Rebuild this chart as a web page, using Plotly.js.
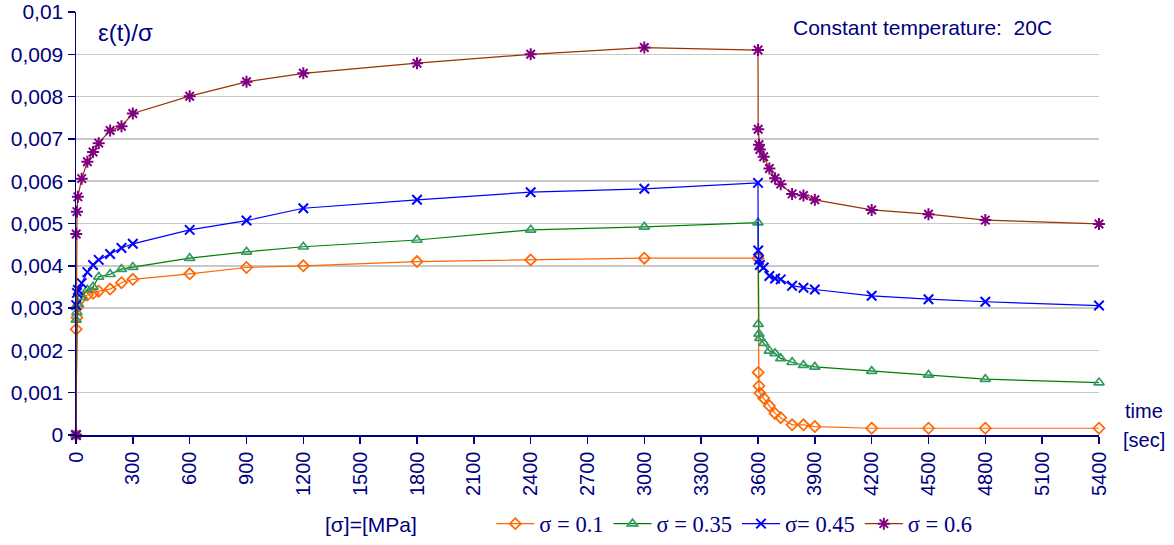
<!DOCTYPE html>
<html>
<head>
<meta charset="utf-8">
<script src="https://cdn.plot.ly/plotly-3.0.1.min.js"></script>
<style>html,body{margin:0;padding:0;background:#fff;}#chart{width:1174px;height:545px;}</style>
</head>
<body>
<div id="chart"></div>
<script>
// time in seconds
const timeSec = [0, 1, 5, 10, 30, 60, 90, 120, 180, 240, 300, 600, 900, 1200, 1800, 2400, 3000, 3600,
  3601, 3605, 3610, 3630, 3660, 3690, 3720, 3780, 3840, 3900, 4200, 4500, 4800, 5400];

const sigma01 = [0, 0.00250, 0.00278, 0.00303, 0.00324, 0.00331, 0.00335, 0.00340, 0.00345, 0.00360, 0.00368,
  0.00381, 0.00396, 0.00400, 0.00410, 0.00414, 0.00418, 0.00418,
  0.00148, 0.00116, 0.00099, 0.00087, 0.00069, 0.00051, 0.00041, 0.00024, 0.00024, 0.00020,
  0.00016, 0.00016, 0.00016, 0.00016];

const sigma035 = [0, 0.00272, 0.00290, 0.00310, 0.00326, 0.00343, 0.00350, 0.00374, 0.00380, 0.00392, 0.00397,
  0.00418, 0.00433, 0.00445, 0.00461, 0.00485, 0.00492, 0.00502,
  0.00262, 0.00239, 0.00229, 0.00217, 0.00199, 0.00193, 0.00181, 0.00172, 0.00165, 0.00161,
  0.00151, 0.00142, 0.00132, 0.00124];

const sigma045 = [0, 0.00307, 0.00336, 0.00343, 0.00359, 0.00385, 0.00402, 0.00414, 0.00428, 0.00442, 0.00452,
  0.00485, 0.00507, 0.00536, 0.00556, 0.00574, 0.00582, 0.00596,
  0.00436, 0.00414, 0.00402, 0.00396, 0.00376, 0.00370, 0.00368, 0.00353, 0.00348, 0.00344,
  0.00329, 0.00321, 0.00315, 0.00306];

const sigma06 = [0, 0.00475, 0.00528, 0.00563, 0.00606, 0.00646, 0.00669, 0.00690, 0.00720, 0.00730, 0.00760,
  0.00801, 0.00835, 0.00855, 0.00879, 0.00900, 0.00916, 0.00910,
  0.00723, 0.00686, 0.00675, 0.00658, 0.00630, 0.00607, 0.00593, 0.00570, 0.00566, 0.00556,
  0.00532, 0.00522, 0.00508, 0.00499];

const seriesNames = ["σ = 0.1", "σ = 0.35", "σ= 0.45", "σ = 0.6"];

const yTickVals = [0, 0.001, 0.002, 0.003, 0.004, 0.005, 0.006, 0.007, 0.008, 0.009, 0.01];
const yTickText = ["0", "0,001", "0,002", "0,003", "0,004", "0,005", "0,006", "0,007", "0,008", "0,009", "0,01"];

const navy = "#000080";

function mk(y, name, lineColor, markerColor, symbol, size, mlw) {
  return {
    x: timeSec, y: y, name: name, type: "scatter", mode: "lines+markers",
    line: {color: lineColor, width: 1.2},
    marker: {symbol: symbol, size: size, color: markerColor, line: {width: mlw, color: markerColor}},
    cliponaxis: false
  };
}

const data = [
  mk(sigma01, seriesNames[0], "#FF6600", "#FF6600", "diamond-open", 8.5, 1.7),
  mk(sigma035, seriesNames[1], "#008000", "#339966", "triangle-up-open", 9, 1.7),
  mk(sigma045, seriesNames[2], "#0000FF", "#0000FF", "x-thin-open", 9.5, 2),
  mk(sigma06, seriesNames[3], "#993300", "#800080", "asterisk-open", 10, 2)
];

const layout = {
  width: 1174, height: 545,
  margin: {l: 76, r: 75, t: 12, b: 110, autoexpand: false},
  paper_bgcolor: "#fff", plot_bgcolor: "#fff",
  font: {family: "Liberation Sans, Arial, sans-serif", color: navy, size: 20},
  showlegend: true,
  legend: {
    orientation: "h", x: 0.406, xanchor: "left", y: (435 - 524) / 423, yanchor: "middle",
    font: {family: "Liberation Serif, Times New Roman, serif", size: 22.5, color: navy},
    bgcolor: "rgba(0,0,0,0)", itemwidth: 38, tracegroupgap: 0
  },
  xaxis: {
    range: [0, 5400], dtick: 300, tick0: 0, tickmode: "linear",
    tickangle: -90, ticks: "outside", ticklen: 7, tickcolor: navy, tickwidth: 1.5,
    showline: true, linecolor: navy, linewidth: 1.5,
    showgrid: false, zeroline: false,
    tickfont: {size: 20, color: navy, family: "Liberation Sans, Arial, sans-serif"}
  },
  yaxis: {
    range: [0, 0.01], tickmode: "array", tickvals: yTickVals, ticktext: yTickText,
    ticks: "outside", ticklen: 7, tickcolor: navy, tickwidth: 1.5,
    showline: true, linecolor: navy, linewidth: 1.5,
    showgrid: true, gridcolor: "#c8c8c8", gridwidth: 1.5, zeroline: false,
    tickfont: {size: 21, color: navy, family: "Liberation Sans, Arial, sans-serif"}
  },
  annotations: [
    {text: "ε(t)/σ", xref: "paper", yref: "paper", x: (96 - 76) / 1023, y: (435 - 33) / 423,
     xanchor: "left", yanchor: "middle", showarrow: false, font: {size: 24, color: navy}},
    {text: "Constant temperature:  20C", xref: "paper", yref: "paper", x: (791 - 76) / 1023, y: (435 - 27) / 423,
     xanchor: "left", yanchor: "middle", showarrow: false, font: {size: 21, color: navy}},
    {text: "time", xref: "paper", yref: "paper", x: (1144 - 76) / 1023, y: (435 - 411) / 423,
     xanchor: "center", yanchor: "middle", showarrow: false, font: {size: 20, color: navy}},
    {text: "[sec]", xref: "paper", yref: "paper", x: (1144 - 76) / 1023, y: (435 - 440) / 423,
     xanchor: "center", yanchor: "middle", showarrow: false, font: {size: 20, color: navy}},
    {text: "[σ]=[MPa]", xref: "paper", yref: "paper", x: (371 - 76) / 1023, y: (435 - 524) / 423,
     xanchor: "center", yanchor: "middle", showarrow: false, font: {size: 21, color: navy}}
  ]
};

Plotly.newPlot("chart", data, layout, {displayModeBar: false, staticPlot: true});
</script>
</body>
</html>
